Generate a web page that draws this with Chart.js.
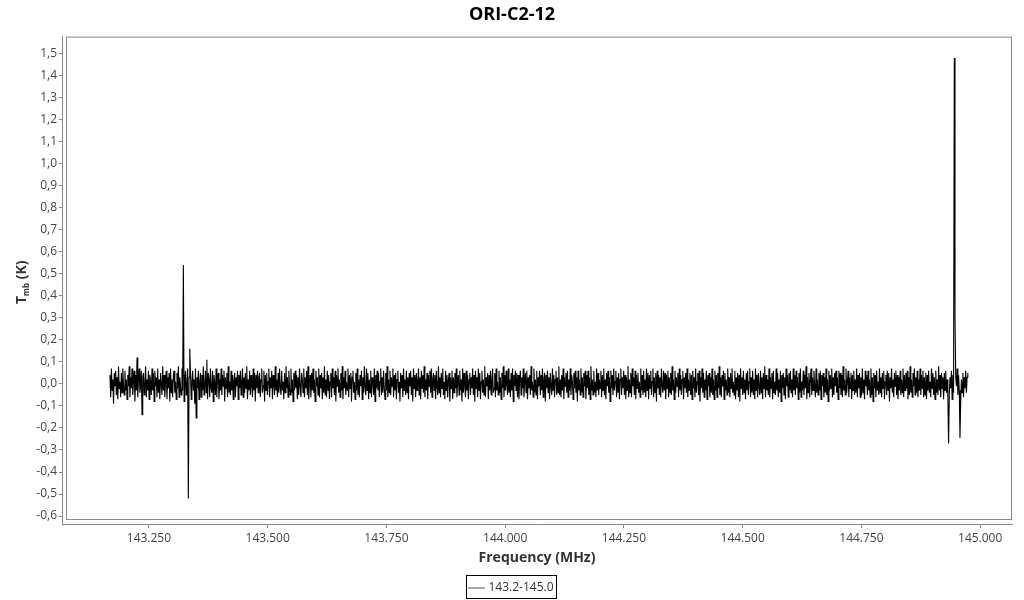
<!DOCTYPE html>
<html>
<head>
<meta charset="utf-8">
<title>ORI-C2-12</title>
<script src="https://cdn.jsdelivr.net/npm/chart.js@4.4.0/dist/chart.umd.min.js"></script>
<style>
  html, body { margin: 0; padding: 0; background: #fff; }
</style>
</head>
<body>
<canvas id="spectrum" width="1024" height="600"></canvas>
<script>
// channel grid of the spectrum (MHz)
const freqStart = 143.168;
const chanWidth = 0.0015;

// baseline noise per channel, in units of 0.01 K
const noise = [
  4,-6,7,-3,2,-8,5,-1,6,-5,3,-7,8,-2,1,-6,5,-4,7,0,-5,6,-3,2,-7,4,-1,8,-6,3,
  -2,7,-5,1,6,-8,4,-3,5,-6,2,7,-4,-1,6,-7,3,5,-5,0,8,-6,2,-3,6,-7,4,1,-5,7,
  -3,5,-8,6,-1,3,-6,7,-4,2,-7,5,0,-5,8,-3,4,-6,1,6,-7,3,-2,5,-8,7,-4,2,-6,4,
  6,-4,1,-7,5,-2,8,-6,3,-1,-5,7,-3,4,-8,2,6,-5,0,7,-6,3,-4,5,-7,1,6,-3,2,-9,
  7,-5,3,-2,6,-7,1,5,-6,4,-3,8,-5,-1,6,-4,3,-7,5,2,-6,7,-2,-4,6,-8,4,0,-5,7,
  -6,3,5,-7,2,-3,7,-5,4,-1,6,-8,3,-2,5,-6,8,-4,1,-5,6,-3,4,-7,2,5,-6,3,-1,6,
  -7,4,-2,6,-5,1,7,-6,3,-4,5,-2,8,-7,2,-3,6,-5,4,-1,-6,7,-3,5,-8,4,-2,6,-4,3,
  5,-6,2,7,-4,-1,6,-8,4,-3,5,-5,1,7,-6,3,-2,6,-7,4,0,-5,8,-3,2,-6,5,-4,7,-2,
  -5,6,-3,1,-7,5,-4,8,-2,3,-6,6,-1,-5,7,-4,2,-8,5,-3,6,-2,4,-7,3,-5,7,-1,-6,5,
  2,-4,7,-6,3,-2,6,-5,8,-7,1,4,-6,5,-3,7,-4,2,-8,6,-1,3,-5,7,-6,4,-2,5,-7,3,
  -4,8,-5,2,-6,6,-3,4,-7,1,5,-6,7,-2,3,-5,6,-8,4,-1,7,-4,2,-6,5,-3,8,-7,3,-2,
  6,-5,1,-3,7,-6,4,-2,5,-8,3,6,-4,1,-7,5,-3,7,-5,2,-6,4,-1,6,-7,3,-4,8,-2,-5,
  7,-3,5,-7,2,-4,6,-6,3,1,-5,7,-8,4,-2,6,-3,5,-6,1,7,-5,3,-4,6,-2,-7,5,-3,8,
  -6,2,-4,6,-5,3,-1,7,-6,4,-3,5,-7,2,6,-4,1,-8,5,-2,4,-6,7,-3,2,-5,6,-4,3,-7,
  5,-1,6,-5,3,-8,7,-2,4,-6,5,-3,1,7,-5,3,-7,6,-2,4,-4,8,-6,2,-3,5,-7,4,-1,6,
  -4,7,-6,2,5,-3,4,-7,6,-1,-5,8,-4,3,-6,5,-2,7,-5,1,-7,6,-3,4,-6,2,5,-8,3,-2,
  6,-7,3,-4,5,-2,7,-6,1,4,-5,6,-3,2,-8,7,-4,5,-1,-6,6,-3,4,-7,2,5,-5,3,-2,7,
  -5,4,-8,6,-2,3,-6,7,-3,5,-7,1,6,-4,2,-5,8,-6,3,-1,5,-7,4,-3,6,-5,2,7,-4,-2,
  5,-6,7,-3,1,-5,6,-4,3,-7,5,-2,8,-6,4,-3,6,-1,-5,7,-4,2,-6,5,-3,7,-8,4,-1,6,
  -3,5,-6,4,-7,2,6,-5,3,-2,7,-6,1,5,-4,6,-7,3,-2,4,-5,8,-3,1,-6,7,-4,2,-5,6,
  -7,3,-1,6,-5,4,-3,7,-6,2,5,-8,4,-2,6,-4,3,-7,5,-1,-5,7,-3,4,-6,2,6,-5,3,-4,
  8,-5,2,-6,4,-3,7,-7,3,-1,5,-4,6,-6,2,-3,7,-5,4,1,-7,5,-2,6,-4,3,-8,6,-3,2,
  -5,7,-4,3,-6,5,-1,6,-7,4,-2,6,-5,3,-7,8,-3,2,-5,6,-4,1,-6,7,-3,5,-5,2,-2,6,
  -6,4,-3,7,-5,2,-7,5,-1,6,-4,3,-8,6,-2,4,-5,7,-3,1,6,-6,3,-4,5,-7,2,7,-5,3,
  -2,6,-5,4,-7,3,-3,8,-6,2,-4,5,-6,7,-1,3,-5,6,-7,4,-2,5,-4,1,-6,7,-3,4,-5,6,
  -4,2,-6,7,-3,5,-7,4,-2,6,-5,1,7,-6,3,-4,5,-8,6,-2,4,-5,3,-6,7,-1,-4,6,-3,5,
  -7,4,-2,6,-6,3,-4,5,-5,8,-3,2,-7,6,-4,3,-1,5,-6,7,-3,4,-5,2,6,-7,3,-2,5,-4,
  7,-6,2,-3,5,-5,4,-7,6,-2,3,-6,7,-4,1,5,-5,6,-8,3,-2,7,-4,5,-6,2,-3,6,-7,4,
  -1,5,-6,3,-4,7,-5,2,-7,6,-3,4,-6,5,-2,8,-5,3,-6,4,-1,6,-7,5,-3,2,-5,7,-4,3,
  -6,5,-2,7,-4,1,-5,6,-7,3,-3,5,-6,4,-8,7,-2,3,-5,6,-4,2,-7,5,-3,6,-5,1,7,-6,
  3,-4,6,-5,2,-7,7,-3,4,-6,5,-1,-5,6,-4,3,-7,5,-2,8,-6,4,-3,2,-5,7,-6,3,-2,5,
  -7,6,-4,1,-5,7,-3,5,-6,2,-4,6,-8,4,-2,5,-5,3,-7,7,-1,4,-6,5,-3,6,-4,2,-6,7,
  -3,4,-5,6,-2,3,-7,5,-4,7,-6,1,-3,6,-5,4,-2,8,-7,3,-4,5,-6,2,7,-5,3,-3,6,-1,
  -6,7,-4,2,-5,5,-3,6,-7,4,-1,5,-6,3,-4,7,-5,2,-8,6,-3,4,-2,7,-6,3,-5,5,-1,6,
  -4,3,-7,6,-2,5,-5,4,-6,8,-3,2,-5,7,-4,1,6,-6,3,-2,5,-7,4,-3,6,-5,2,-4,7,-6,
  4,-2,5,-6,3,-5,7,-4,2,-7,6,-1,4,-5,6,-3,2,-6,7,-5,3,-8,5,-2,4,-6,6,-3,1,-5,
  7,-4,3,-6,5,-2,6,-7,1,4,-5,6,-3,5,-8,3,-2,7,-4,2,-6,5,-1,6,-5,4,-7,3,-3,6,
  -5,2,-4,7,-6,4,-3,5,-2,6,-7,3,-5,8,-4,2,-6,5,-1,7,-5,3,-4,6,-6,2,-3,7,-5,4,
  -2,6,-6,3,-5,5,-7,4,-3,6,-4,1,-6,7,-2,5,-5,3,-7,6,-4,2,-5,8,-3,4,-6,5,-2,3,
  -7,5,-3,6,-4,2,-6,7,-5,3,-2,6,-7,4,-4,5,-6,3,-1,7,-5,4,-3,6,-8,2,-4,5,-6,3,
  -2,6,-4,3,5
];

// narrow lines and glitches: frequency (MHz), Tmb (K)
const lineFreq = [143.175, 143.225, 143.235, 143.322, 143.333, 143.336, 143.349, 143.372, 144.934, 144.945, 144.947, 144.957];
const lineTmb  = [-0.09,   0.12,    -0.14,   0.54,    -0.52,   0.16,    -0.155,  0.11,    -0.27,   1.48,    0.31,    -0.245];

const xTicks = [143.25, 143.5, 143.75, 144.0, 144.25, 144.5, 144.75, 145.0];
const yTicks = [-0.6,-0.5,-0.4,-0.3,-0.2,-0.1,0,0.1,0.2,0.3,0.4,0.5,0.6,0.7,0.8,0.9,1.0,1.1,1.2,1.3,1.4,1.5];

const points = noise.map((v, i) => ({ x: freqStart + i * chanWidth, y: v / 100 }));
lineFreq.forEach((f, k) => {
  const i = Math.round((f - freqStart) / chanWidth);
  if (points[i]) points[i].y = lineTmb[k];
});

Chart.defaults.font.family = "'Open Sans', 'Noto Sans', sans-serif";
Chart.defaults.color = '#444';

const axisGray = '#888';

// gray box around the plotting area, inset from the axis lines
const plotFrame = {
  id: 'plotFrame',
  beforeDatasetsDraw(chart) {
    const a = chart.chartArea, ctx = chart.ctx;
    ctx.save();
    ctx.strokeStyle = axisGray;
    ctx.lineWidth = 1;
    ctx.strokeRect(a.left + 4.5, a.top + 0.5, a.right - a.left - 5, a.bottom - a.top - 5);
    ctx.restore();
  }
};

// y title with subscript "mb"
const yTitle = {
  id: 'yTitle',
  afterDraw(chart) {
    const ctx = chart.ctx;
    const a = chart.chartArea;
    ctx.save();
    ctx.translate(22, (a.top + a.bottom) / 2 + 2);
    ctx.rotate(-Math.PI / 2);
    ctx.fillStyle = '#333';
    ctx.textBaseline = 'middle';
    const big = "bold 14px 'Open Sans', sans-serif";
    const small = "bold 8px 'Open Sans', sans-serif";
    ctx.font = big;
    const wT = ctx.measureText('T').width;
    const wK = ctx.measureText(' (K)').width;
    ctx.font = small;
    const wS = ctx.measureText('mb').width;
    let x = -(wT + wS + wK) / 2;
    ctx.font = big;
    ctx.fillText('T', x, 0);
    x += wT;
    ctx.font = small;
    ctx.fillText('mb', x, 5);
    x += wS;
    ctx.font = big;
    ctx.fillText(' (K)', x, 0);
    ctx.restore();
  }
};

// black border round the legend entry
const legendFrame = {
  id: 'legendFrame',
  afterDraw(chart) {
    const boxes = chart.legend && chart.legend.legendHitBoxes;
    if (!boxes || !boxes.length) return;
    const b = boxes[0];
    const ctx = chart.ctx;
    ctx.save();
    ctx.strokeStyle = '#000';
    ctx.lineWidth = 1;
    ctx.strokeRect(Math.round(b.left) - 3.5, Math.round(b.top) - 6.5, Math.round(b.width) + 7, 23);
    ctx.restore();
  }
};

new Chart(document.getElementById('spectrum'), {
  type: 'line',
  data: {
    datasets: [{
      label: '143.2-145.0',
      data: points,
      borderColor: '#000',
      backgroundColor: '#000',
      borderWidth: 1.1,
      pointRadius: 0,
      tension: 0,
      fill: false
    }]
  },
  options: {
    responsive: false,
    animation: false,
    events: [],
    layout: { padding: { left: 0, right: 0, top: 0, bottom: -4 } },
    plugins: {
      title: {
        display: true,
        text: 'ORI-C2-12',
        color: '#000',
        font: { size: 18, weight: 'bold' },
        padding: { top: 4, bottom: 11 }
      },
      legend: {
        position: 'bottom',
        labels: {
          usePointStyle: true,
          pointStyle: 'line',
          boxWidth: 12,
          color: '#333',
          font: { size: 12 },
          padding: 10,
          generateLabels: chart => Chart.defaults.plugins.legend.labels.generateLabels(chart)
            .map(item => Object.assign(item, { lineWidth: 1, strokeStyle: '#555' }))
        }
      },
      tooltip: { enabled: false }
    },
    scales: {
      x: {
        type: 'linear',
        position: 'bottom',
        min: 143.067,
        max: 145.067,
        afterBuildTicks: s => { s.ticks = xTicks.map(v => ({ value: v })); },
        afterFit: s => { s.height = 48; },
        ticks: {
          callback: v => v.toFixed(3),
          maxRotation: 0,
          autoSkip: false,
          padding: 3,
          font: { size: 12 },
          color: '#444'
        },
        grid: { drawOnChartArea: false, drawTicks: true, tickLength: 4, color: axisGray },
        border: { color: axisGray },
        title: {
          display: true,
          text: 'Frequency (MHz)',
          color: '#333',
          font: { size: 14, weight: 'bold' },
          padding: { top: 2, bottom: 6 }
        }
      },
      y: {
        type: 'linear',
        min: -0.636,
        max: 1.577,
        afterBuildTicks: s => { s.ticks = yTicks.map(v => ({ value: v })); },
        afterFit: s => { s.width = 62; },
        ticks: {
          callback: v => v.toFixed(1).replace('.', ','),
          padding: 2,
          font: { size: 12 },
          color: '#444'
        },
        grid: { drawOnChartArea: false, drawTicks: true, tickLength: 3, color: axisGray },
        border: { color: axisGray }
      },
      // empty right-hand strip so the plot and title sit like the original
      yRight: {
        type: 'linear',
        position: 'right',
        display: true,
        afterFit: s => { s.width = 12; },
        ticks: { display: false },
        grid: { display: false },
        border: { display: false }
      }
    }
  },
  plugins: [plotFrame, yTitle, legendFrame]
});
</script>
</body>
</html>
